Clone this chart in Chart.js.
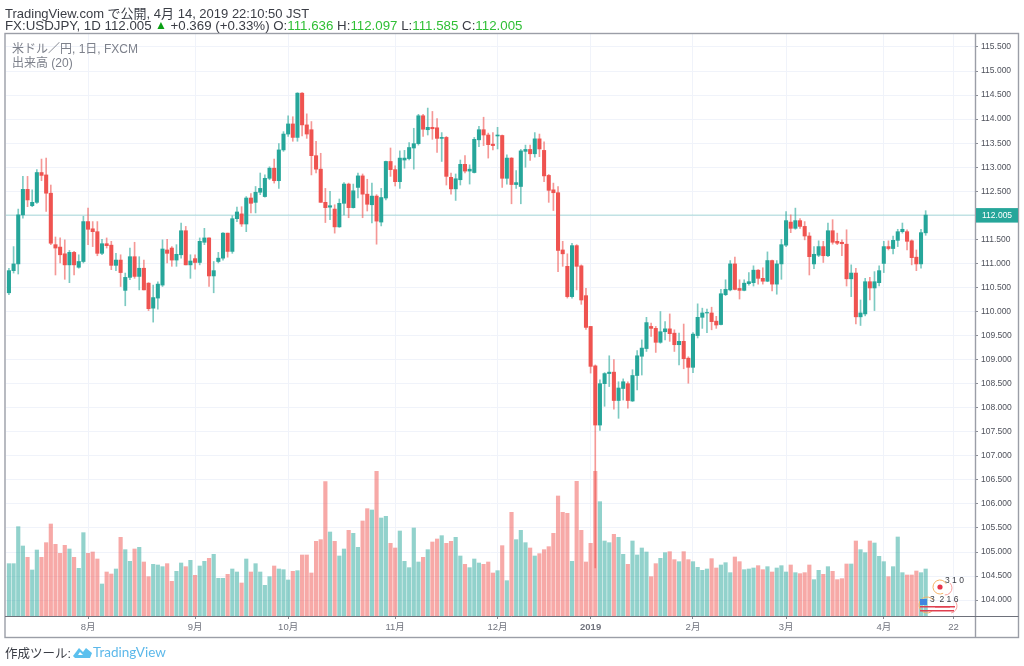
<!DOCTYPE html>
<html lang="ja"><head><meta charset="utf-8">
<script src="https://cdn.jsdelivr.net/npm/chart.js@4/dist/chart.umd.min.js"></script>
<style>
html,body{margin:0;padding:0;background:#fff;width:1024px;height:666px;overflow:hidden}
#c{position:absolute;left:0;top:0;width:1024px;height:666px;filter:blur(.3px)}
.t{position:absolute;white-space:nowrap;font-family:"Liberation Sans","Noto Sans CJK JP",sans-serif}
.g{color:#2fbf35}
</style></head><body>
<canvas id="c" width="1024" height="666"></canvas>
<div class="t" style="left:5px;top:3px;font-size:13px;color:#3a3d45">TradingView.com で公開, 4月 14, 2019 22:10:50 JST</div>
<div class="t" style="left:5px;top:18px;font-size:13.3px;color:#3a3d45">FX:USDJPY, 1D 112.005<span style="color:#0a9f14;font-size:12px;position:relative;top:-1px"> ▲</span> +0.369 (+0.33%) O:<span class="g">111.636</span> H:<span class="g">112.097</span> L:<span class="g">111.585</span> C:<span class="g">112.005</span></div>
<div class="t" style="left:12px;top:39px;font-size:12px;color:#7d818b">米ドル／円, 1日, FXCM</div>
<div class="t" style="left:12px;top:53px;font-size:12px;color:#7d818b">出来高 (20)</div>
<div class="t" style="left:5px;top:643px;font-size:12.5px;color:#3a3d45">作成ツール:</div>
<svg style="position:absolute;left:73px;top:646px" width="20" height="13" viewBox="0 0 20 13"><path d="M0 10 L6 2 L10 6 L13 2 L19 7 L17 12 L2 12 Z" fill="#5cc0ee"/><path d="M5 9 L7 6 L10 9 Z" fill="#fff"/></svg>
<div class="t" style="left:93px;top:644px;font-size:13.5px;color:#5cb8ea;font-family:Lato,'Liberation Sans',sans-serif">TradingView</div>
<script>
const opens=[110.39,110.85,110.99,112.01,112.54,112.20,112.27,112.89,112.84,112.46,
111.39,111.34,111.20,110.97,111.23,110.92,111.04,111.87,111.72,111.66,
111.21,111.41,111.38,110.96,111.07,110.44,110.71,111.14,110.73,110.90,
110.59,110.07,110.28,110.55,111.28,111.32,111.07,111.18,111.68,110.97,
111.10,111.02,111.44,111.53,110.74,111.04,111.11,111.63,111.25,111.93,
112.03,111.82,112.36,112.27,112.48,112.39,112.77,112.98,112.72,113.36,
113.69,113.90,113.62,114.54,113.88,113.78,113.24,112.96,112.27,112.17,
112.13,111.76,112.25,112.65,112.16,112.58,112.82,112.44,112.22,112.40,
111.86,112.36,113.12,112.95,112.70,113.15,113.18,113.40,113.49,114.07,
113.78,113.83,113.82,113.60,113.62,112.79,112.55,112.74,113.06,112.92,
112.89,113.57,113.78,113.67,113.48,113.65,113.66,112.77,113.19,112.64,
112.60,113.33,113.37,113.28,113.59,113.35,112.83,112.53,112.47,111.28,
110.94,110.31,111.37,110.95,110.33,109.69,108.87,107.64,108.50,108.71,
108.74,108.15,108.40,108.50,108.14,108.67,109.07,109.23,109.69,109.65,
109.36,109.58,109.64,109.55,109.31,109.38,109.03,108.84,109.50,109.88,
109.97,109.97,109.80,109.73,110.35,110.45,110.99,110.48,110.44,110.58,
110.60,110.86,110.69,110.63,111.06,110.57,110.99,111.38,111.86,111.73,
111.89,111.77,111.57,110.99,111.17,111.35,111.16,111.68,111.46,111.44,
111.40,110.68,110.80,109.89,109.95,110.62,110.49,110.60,111.00,111.35,
111.31,111.48,111.66,111.66,111.47,111.13,110.99,111.636];
const closes=[110.85,110.99,112.01,112.54,112.32,112.27,112.89,112.83,112.46,111.42,
111.32,111.18,110.97,111.23,110.97,111.04,111.87,111.71,111.66,111.21,
111.41,111.37,110.96,111.07,110.81,110.71,111.14,110.73,110.90,110.45,
110.06,110.29,110.57,111.30,111.21,111.07,111.19,111.68,110.97,111.05,
111.02,111.46,111.53,110.74,110.85,111.11,111.63,111.25,111.93,112.07,
111.82,112.36,112.25,112.48,112.56,112.77,112.98,112.72,113.36,113.69,
113.90,113.62,114.54,113.88,113.69,113.24,112.96,112.27,112.16,112.20,
111.76,112.25,112.65,112.16,112.51,112.82,112.44,112.23,112.40,111.88,
112.37,113.12,112.95,112.70,113.19,113.19,113.41,113.49,114.07,113.79,
113.83,113.80,113.60,113.62,112.81,112.55,112.76,113.06,112.92,112.96,
113.58,113.78,113.67,113.47,113.45,113.67,112.77,113.19,112.64,112.68,
113.34,113.37,113.28,113.59,113.38,112.82,112.52,112.47,111.27,111.20,
110.31,111.37,110.94,110.24,109.67,108.86,107.64,108.50,108.71,108.74,
108.15,108.41,108.54,108.15,108.67,109.08,109.24,109.77,109.65,109.36,
109.58,109.64,109.54,109.31,109.38,109.02,108.84,109.53,109.88,109.97,
109.98,109.79,109.72,110.37,110.46,110.99,110.46,110.44,110.59,110.62,
110.86,110.69,110.63,111.06,110.57,110.99,111.39,111.89,111.73,111.89,
111.77,111.57,111.14,111.19,111.35,111.16,111.68,111.44,111.42,111.41,
110.68,110.80,109.89,109.97,110.62,110.49,110.62,110.85,111.35,111.31,
111.48,111.66,111.71,111.46,111.12,110.99,111.64,112.005];
const highs=[110.90,111.35,112.13,112.81,112.81,112.53,112.95,113.17,113.19,112.63,
111.55,111.53,111.49,111.27,111.25,111.18,111.98,112.15,111.87,111.87,
111.50,111.53,111.46,111.21,111.18,110.80,111.32,111.44,111.14,111.07,
110.60,110.55,110.62,111.49,111.50,111.35,111.39,111.84,111.77,111.18,
111.18,111.53,111.73,111.53,111.04,111.23,111.64,111.63,111.99,112.17,
112.18,112.39,112.45,112.60,112.88,112.84,113.01,113.17,113.49,113.74,
114.07,114.05,114.55,114.55,114.11,113.95,113.54,113.29,112.56,112.50,
112.22,112.34,112.68,112.67,112.65,112.88,112.86,112.75,112.67,112.43,
112.56,113.13,113.40,113.03,113.34,113.35,113.51,113.81,114.10,114.10,
114.23,114.16,114.01,113.72,113.64,112.88,112.86,113.15,113.24,113.05,
113.62,113.85,114.04,113.71,113.72,113.83,113.67,113.26,113.20,112.93,
113.37,113.46,113.46,113.72,113.69,113.53,112.85,112.67,112.60,111.46,
111.20,111.42,111.39,110.97,110.48,109.69,108.89,108.58,108.73,109.08,
109.00,108.54,108.60,108.54,108.79,109.19,109.41,109.88,109.76,109.69,
110.00,109.79,109.95,109.62,109.55,109.74,109.06,109.56,110.16,110.07,
110.05,110.09,109.90,110.46,110.66,111.06,111.13,110.66,110.66,110.81,
110.95,110.87,110.91,111.24,111.07,111.06,111.50,112.08,112.01,112.15,
111.93,111.87,111.64,111.35,111.47,111.46,111.84,111.91,111.63,111.49,
111.70,110.97,110.90,110.24,110.69,110.71,110.83,110.95,111.46,111.47,
111.57,111.71,111.84,111.70,111.49,111.28,111.71,112.097];
const lows=[110.35,110.80,110.78,111.94,112.18,112.18,112.25,112.72,112.08,111.39,
110.76,111.01,110.67,110.60,110.76,110.90,111.01,111.39,111.35,111.16,
111.18,111.32,110.87,110.85,110.52,110.12,110.66,110.69,110.45,110.45,
110.02,109.78,110.05,110.52,111.01,110.94,110.94,111.11,110.97,110.69,
110.88,110.97,111.39,110.52,110.39,111.01,111.07,111.13,111.21,111.87,
111.77,111.66,112.05,112.05,112.43,112.38,112.74,112.67,112.56,113.33,
113.64,113.54,113.54,113.65,113.60,112.84,112.88,112.27,111.85,111.91,
111.63,111.75,112.01,111.95,112.15,112.36,111.95,112.09,111.84,111.40,
111.78,112.32,112.81,112.61,112.56,112.98,113.15,112.96,113.46,113.64,
113.67,113.58,113.31,113.12,112.63,112.44,112.31,112.63,112.88,112.65,
112.88,113.43,113.45,113.19,113.36,113.38,112.58,112.65,112.24,112.56,
112.24,113.00,113.14,113.21,113.22,112.70,112.27,112.10,110.83,110.94,
110.28,110.28,110.45,110.15,109.63,108.72,104.67,107.53,108.03,108.44,
107.97,107.78,108.16,107.99,108.13,108.37,108.68,109.17,109.48,109.15,
109.34,109.41,109.38,109.17,108.89,108.81,108.51,108.73,109.45,109.65,
109.56,109.62,109.65,109.72,110.33,110.43,110.45,110.26,110.43,110.55,
110.53,110.57,110.57,110.62,110.43,110.36,110.67,111.35,111.64,111.71,
111.73,111.49,110.76,110.89,111.14,111.02,111.14,111.40,111.39,111.16,
110.53,110.31,109.74,109.71,109.91,110.24,110.02,110.53,110.81,111.28,
111.20,111.35,111.63,111.28,110.97,110.85,110.90,111.585];
const volumes=[157,157,268,210,176,138,198,176,220,276,
215,188,212,201,176,143,250,188,192,171,
96,132,126,141,236,199,164,201,206,162,
118,155,153,148,157,104,134,159,148,167,
122,150,164,173,185,113,113,125,141,132,
99,171,132,157,132,92,118,150,141,139,
108,134,136,183,183,129,224,229,403,252,
224,180,201,257,248,206,285,322,318,434,
294,299,218,204,255,164,145,264,162,176,
199,222,231,241,218,224,236,180,155,145,
171,159,155,162,129,136,211,106,311,229,
257,220,204,180,187,199,208,248,360,311,
308,164,404,257,162,218,434,343,225,220,
245,236,185,155,225,183,204,192,118,157,
173,190,193,169,163,193,169,163,146,137,
141,172,144,153,160,130,177,163,139,141,
144,151,139,148,132,144,151,132,153,130,
127,130,153,109,137,125,148,134,109,112,
156,156,225,199,190,225,219,179,163,118,
148,237,130,123,123,135,130,141];
const monthIndex=[17,40,60,83,105,125,147,167,188,203];
const monthLabels=["8月","9月","10月","11月","12月","2019","2月","3月","4月","22"];
const priceTicks=[104,104.5,105,105.5,106,106.5,107,107.5,108,108.5,109,109.5,110,110.5,111,111.5,112,112.5,113,113.5,114,114.5,115,115.5];
const lastPrice=112.005;
const xRange=[-0.63,207.6], yRange=[103.67,115.77], volumeMax=1746;

const UP='#26a69a',DOWN='#ef5350',UPW='rgba(38,166,154,.6)',DOWNW='rgba(239,83,80,.6)',UPV='rgba(38,166,154,.5)',DOWNV='rgba(239,83,80,.5)';
const isUp=i=>closes[i]>=opens[i];
const idx=opens.map((_,i)=>i);

const framePlugin={id:'frame',
 afterDraw(ch){
  const c=ch.ctx,a=ch.chartArea,ys=ch.scales.y;
  c.save();
  c.strokeStyle='#9b9ea7';c.lineWidth=1.4;
  c.strokeRect(5,33.5,1013.5,604);
  c.beginPath();c.moveTo(a.right+.5,33.5);c.lineTo(a.right+.5,637.5);c.stroke();
  c.strokeStyle='#6e717b';c.lineWidth=1;
  c.beginPath();c.moveTo(5,a.bottom+.5);c.lineTo(1018.5,a.bottom+.5);c.stroke();
  const py=ys.getPixelForValue(lastPrice);
  c.fillStyle=UP;c.fillRect(a.right+1,py-7,42,14.5);
  c.fillStyle='#fff';c.font='8.5px "Liberation Sans",sans-serif';c.textAlign='left';c.textBaseline='middle';
  c.fillText(lastPrice.toFixed(3),982,py+.5);
  // event badges
  c.lineWidth=1;
  c.strokeStyle='#f5b266';c.beginPath();c.arc(940,587,7,Math.PI*.35,Math.PI*1.85);c.stroke();
  c.strokeStyle='#f7a0a0';c.beginPath();c.arc(945,588,7,-.8,1.6);c.stroke();
  c.fillStyle='#e8344a';c.beginPath();c.arc(940,587,2.6,0,7);c.fill();
  c.strokeStyle='#f5b266';c.beginPath();c.arc(927,605,8,Math.PI*.3,Math.PI*1.8);c.stroke();
  c.strokeStyle='#f7a0a0';c.beginPath();c.arc(950,606,7,-.9,1.4);c.stroke();
  c.fillStyle='#e04050';c.fillRect(920,606,30,1.5);c.fillRect(920,610,34,1.5);c.fillRect(935,606,20,1.5);
  c.fillStyle='#3f86e0';c.fillRect(920,599,7,6);
  c.fillStyle='#3a3d45';c.font='8.5px "Liberation Sans",sans-serif';
  c.fillText('3 1 0',945,581);c.fillText('3  2 1 6',930,600);
  c.restore();
 }};

new Chart(document.getElementById('c'),{
 type:'bar',
 data:{datasets:[
  {label:'Last',type:'line',data:xRange.map(x=>({x,y:lastPrice})),borderColor:'rgba(38,166,154,.3)',borderWidth:1.2,pointRadius:0,order:5,yAxisID:'y'},
  {label:'Volume',data:idx.map(i=>({x:i,y:volumes[i]})),backgroundColor:idx.map(i=>isUp(i)?UPV:DOWNV),barThickness:3.5,grouped:false,order:4,yAxisID:'v'},
  {label:'Wick',data:idx.map(i=>({x:i,y:[lows[i],highs[i]]})),backgroundColor:idx.map(i=>isUp(i)?UPW:DOWNW),barThickness:1,grouped:false,order:3,yAxisID:'y'},
  {label:'Body',data:idx.map(i=>({x:i,y:[opens[i],closes[i]]})),backgroundColor:idx.map(i=>isUp(i)?UP:DOWN),barThickness:3.4,grouped:false,order:2,yAxisID:'y'}
 ]},
 plugins:[framePlugin],
 options:{responsive:false,animation:false,
  layout:{padding:{left:6,top:34,right:5,bottom:29}},
  plugins:{legend:{display:false},tooltip:{enabled:false}},
  scales:{
   x:{type:'linear',offset:false,min:xRange[0],max:xRange[1],
    afterBuildTicks(s){s.ticks=monthIndex.map(value=>({value}))},
    afterFit(s){s.height=21},
    grid:{offset:false,color:'#f0f3fa',lineWidth:1,tickLength:3,tickColor:'#8a8d96'},
    border:{display:false},
    ticks:{autoSkip:false,maxRotation:0,padding:3,color:'#70737d',
     font:ctx=>({family:'"Liberation Sans","Noto Sans CJK JP",sans-serif',size:9.5,weight:ctx.tick&&monthLabels[monthIndex.indexOf(ctx.tick.value)]==='2019'?'bold':'normal'}),
     callback:v=>monthLabels[monthIndex.indexOf(v)]}},
   y:{type:'linear',position:'right',min:yRange[0],max:yRange[1],
    afterBuildTicks(s){s.ticks=priceTicks.map(value=>({value}))},
    afterFit(s){s.width=44},
    grid:{color:'#f0f3fa',lineWidth:1,tickLength:3,tickColor:'#8a8d96'},
    border:{display:false},
    ticks:{autoSkip:false,padding:3,color:'#4f525c',font:{family:'"Liberation Sans",sans-serif',size:8.5},callback:v=>v.toFixed(3)}},
   v:{type:'linear',display:false,min:0,max:volumeMax}
  }}
});
</script></body></html>
